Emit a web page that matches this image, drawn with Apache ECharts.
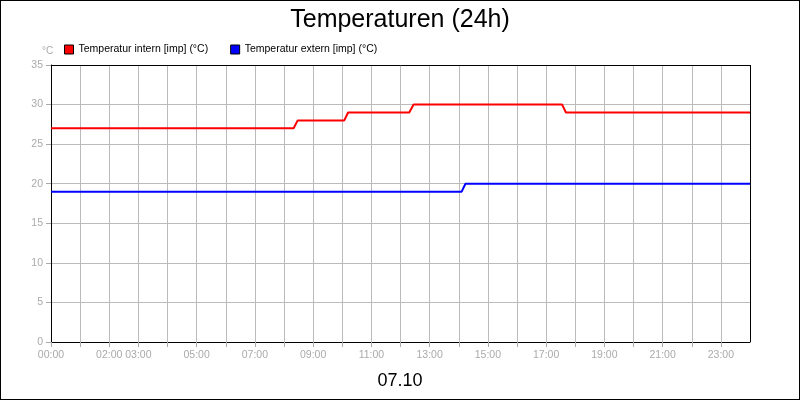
<!DOCTYPE html>
<html><head><meta charset="utf-8">
<script src="https://cdn.jsdelivr.net/npm/echarts@6/dist/echarts.min.js"></script>
<style>html,body{margin:0;padding:0;background:#fff}#c{width:798px;height:398px;border:1px solid #000}</style>
</head><body><div id="c"></div>
<script>
const title = "Temperaturen (24h)";
const dateLabel = "07.10";
const seriesNames = ["Temperatur intern [imp] (°C)", "Temperatur extern [imp] (°C)"];
const shownHours = [0, 2, 3, 5, 7, 9, 11, 13, 15, 17, 19, 21, 23];
// [hour, value]
const internHours = [0, 8.33, 8.47, 10.07, 10.2, 12.3, 12.45, 17.55, 17.68, 24];
const internVals  = [27, 27, 28, 28, 29, 29, 30, 30, 29, 29];
const externHours = [0, 14.1, 14.23, 24];
const externVals  = [19, 19, 20, 20];

const zip = (a, b) => a.map((x, i) => [x, b[i]]);
const pad = h => (h < 10 ? "0" : "") + h + ":00";
const chart = echarts.init(document.getElementById('c'));
chart.setOption({
  animation: false,
  title: [{text: title, left: 'center', top: 2, textStyle: {fontFamily: 'Liberation Sans', fontSize: 25, fontWeight: 'normal', color: '#000'}},
          {text: dateLabel, left: 'center', top: 366, textStyle: {fontFamily: 'Liberation Sans', fontSize: 18, fontWeight: 'normal', color: '#000'}},
          {text: '°C', left: 36, top: 40, textStyle: {fontFamily: 'Liberation Sans', fontSize: 10, fontWeight: 'normal', color: '#aaa'}}],
  legend: {left: 58, top: 38, itemWidth: 9, itemHeight: 9, itemGap: 22, icon: 'rect',
    textStyle: {fontFamily: 'Liberation Sans', fontSize: 10.5, color: '#000'},
    itemStyle: {borderColor: '#000', borderWidth: 1},
    data: seriesNames},
  grid: {left: 50, right: 49, top: 64, bottom: 57},
  xAxis: {type: 'value', min: 0, max: 24, interval: 1,
    axisLine: {lineStyle: {color: '#000'}}, axisTick: {lineStyle: {color: '#aaa'}},
    splitLine: {show: true, lineStyle: {color: '#bbb'}},
    axisLabel: {color: '#aaa', fontFamily: 'Liberation Sans', fontSize: 10.5, showMaxLabel: false,
      formatter: v => shownHours.includes(v) ? pad(v) : ''}},
  yAxis: {type: 'value', min: 0, max: 35, interval: 5,
    axisLine: {show: true, lineStyle: {color: '#000'}}, axisTick: {show: true, lineStyle: {color: '#aaa'}},
    splitLine: {show: true, lineStyle: {color: '#bbb'}},
    axisLabel: {color: '#aaa', fontFamily: 'Liberation Sans', fontSize: 10.5}},
  series: [
    {name: seriesNames[0], type: 'line', data: zip(internHours, internVals), showSymbol: false,
     lineStyle: {color: '#ff0000', width: 2}, itemStyle: {color: '#ff0000'}},
    {name: seriesNames[1], type: 'line', data: zip(externHours, externVals), showSymbol: false,
     lineStyle: {color: '#0000ff', width: 2}, itemStyle: {color: '#0000ff'}},
    {type: 'line', data: [], markLine: {silent: true, symbol: 'none', label: {show: false},
      lineStyle: {color: '#000', type: 'solid', width: 1}, data: [{yAxis: 35}, {xAxis: 24}]}}
  ]
});
</script></body></html>
